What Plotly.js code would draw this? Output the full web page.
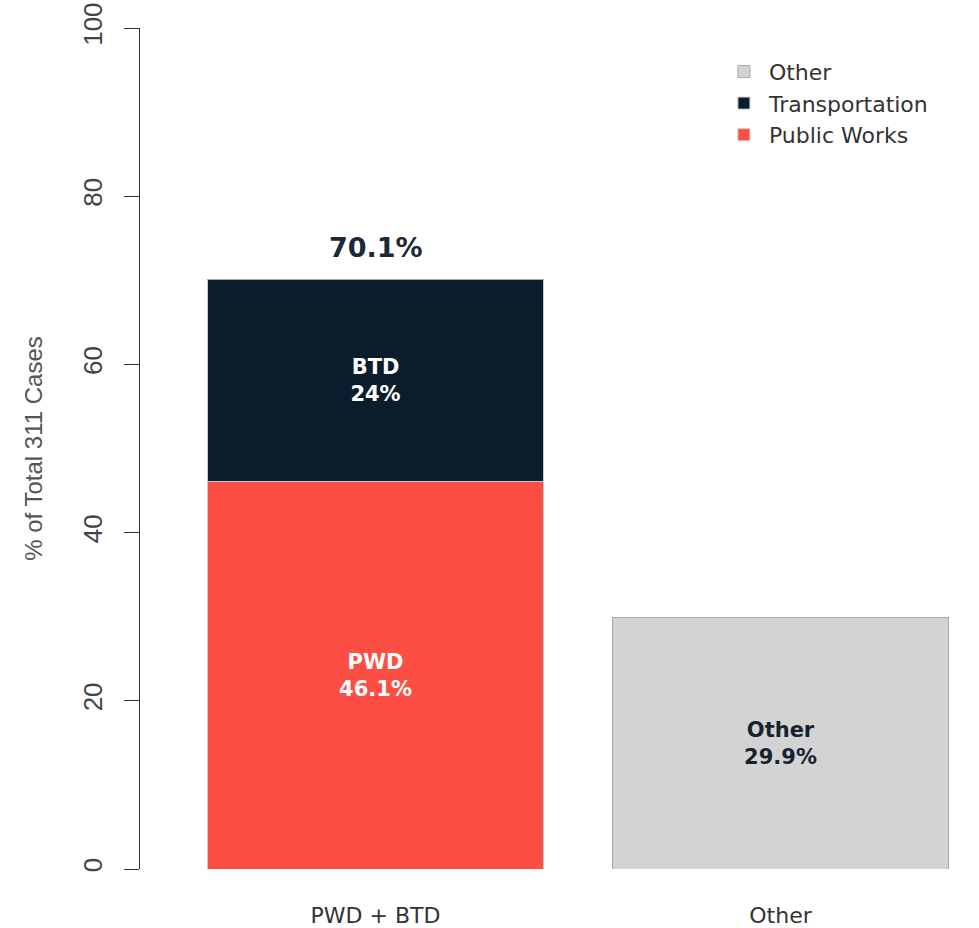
<!DOCTYPE html>
<html>
<head>
<meta charset="utf-8">
<script src="https://cdn.plot.ly/plotly-3.0.1.min.js"></script>
<style>
html,body{margin:0;padding:0;background:#fff;}
#chart{width:979px;height:928px;}
</style>
</head>
<body>
<div id="chart"></div>
<script>
const categories = ["PWD + BTD", "Other"];
const publicWorks = [46.1, 0];
const transportation = [24.0, 0];
const other = [0, 29.9];
const publicWorksLabels = ["<b>PWD<br>46.1%</b>", ""];
const transportationLabels = ["<b>BTD<br>24%</b>", ""];
const otherLabels = ["", "<b>Other<br>29.9%</b>"];
const totals = [70.1];
const totalLabels = ["<b>70.1%</b>"];
const yTicks = [0, 20, 40, 60, 80, 100];

const mainFont = "'DejaVu Sans', Inter, sans-serif";
const inFont = {family: mainFont, size: 21};

const traces = [
  {type: "bar", name: "Public Works", x: categories, y: publicWorks, text: publicWorksLabels,
   textposition: "inside", insidetextanchor: "middle", textangle: 0, constraintext: "none",
   textfont: Object.assign({color: "#ffffff"}, inFont),
   marker: {color: "#FC4E43", line: {color: "#c9c9c9", width: 1}}, hoverinfo: "skip"},
  {type: "bar", name: "Transportation", x: categories, y: transportation, text: transportationLabels,
   textposition: "inside", insidetextanchor: "middle", textangle: 0, constraintext: "none",
   textfont: Object.assign({color: "#ffffff"}, inFont),
   marker: {color: "#0B1D2D", line: {color: "#c9c9c9", width: 1}}, hoverinfo: "skip"},
  {type: "bar", name: "Other", x: categories, y: other, text: otherLabels,
   textposition: "inside", insidetextanchor: "middle", textangle: 0, constraintext: "none",
   textfont: Object.assign({color: "#14232f"}, inFont),
   marker: {color: "#D3D3D3", line: {color: "#a8a8a8", width: 1}}, hoverinfo: "skip"}
];

const annotations = totals.map((t, i) => ({
  x: categories[i], y: t, xref: "x", yref: "y", text: totalLabels[i], showarrow: false,
  yanchor: "bottom", yshift: 14, font: {family: mainFont, size: 27, color: "#1b2a36"}
}));

const layout = {
  width: 979, height: 928,
  margin: {l: 140, r: 19, t: 28, b: 59},
  paper_bgcolor: "#ffffff", plot_bgcolor: "#ffffff",
  barmode: "stack", bargap: 0.168,
  showlegend: true,
  legend: {x: 0.706, y: 0.973, xanchor: "left", yanchor: "top", traceorder: "reversed",
           itemwidth: 40,
           font: {family: mainFont, size: 22, color: "#333333"}, bgcolor: "rgba(0,0,0,0)"},
  xaxis: {type: "category", range: [-0.5815, 1.4432], showline: false, showgrid: false,
          zeroline: false, ticks: "", ticklabelstandoff: 31,
          tickfont: {family: mainFont, size: 22, color: "#333333"}},
  yaxis: {range: [0, 100], tickvals: yTicks, showline: true, linecolor: "#333333", linewidth: 1,
          ticks: "outside", ticklen: 15, tickcolor: "#333333", tickwidth: 1,
          tickangle: -90, showgrid: false, zeroline: false, ticklabelstandoff: 12,
          tickfont: {family: "'Liberation Sans', Arial, sans-serif", size: 26, color: "#444444"},
          title: {text: "% of Total 311 Cases", standoff: 28,
                  font: {family: "'Liberation Sans', Arial, sans-serif", size: 24, color: "#555555"}}},
  annotations: annotations
};

Plotly.newPlot("chart", traces, layout, {displayModeBar: false, staticPlot: true});
</script>
</body>
</html>
